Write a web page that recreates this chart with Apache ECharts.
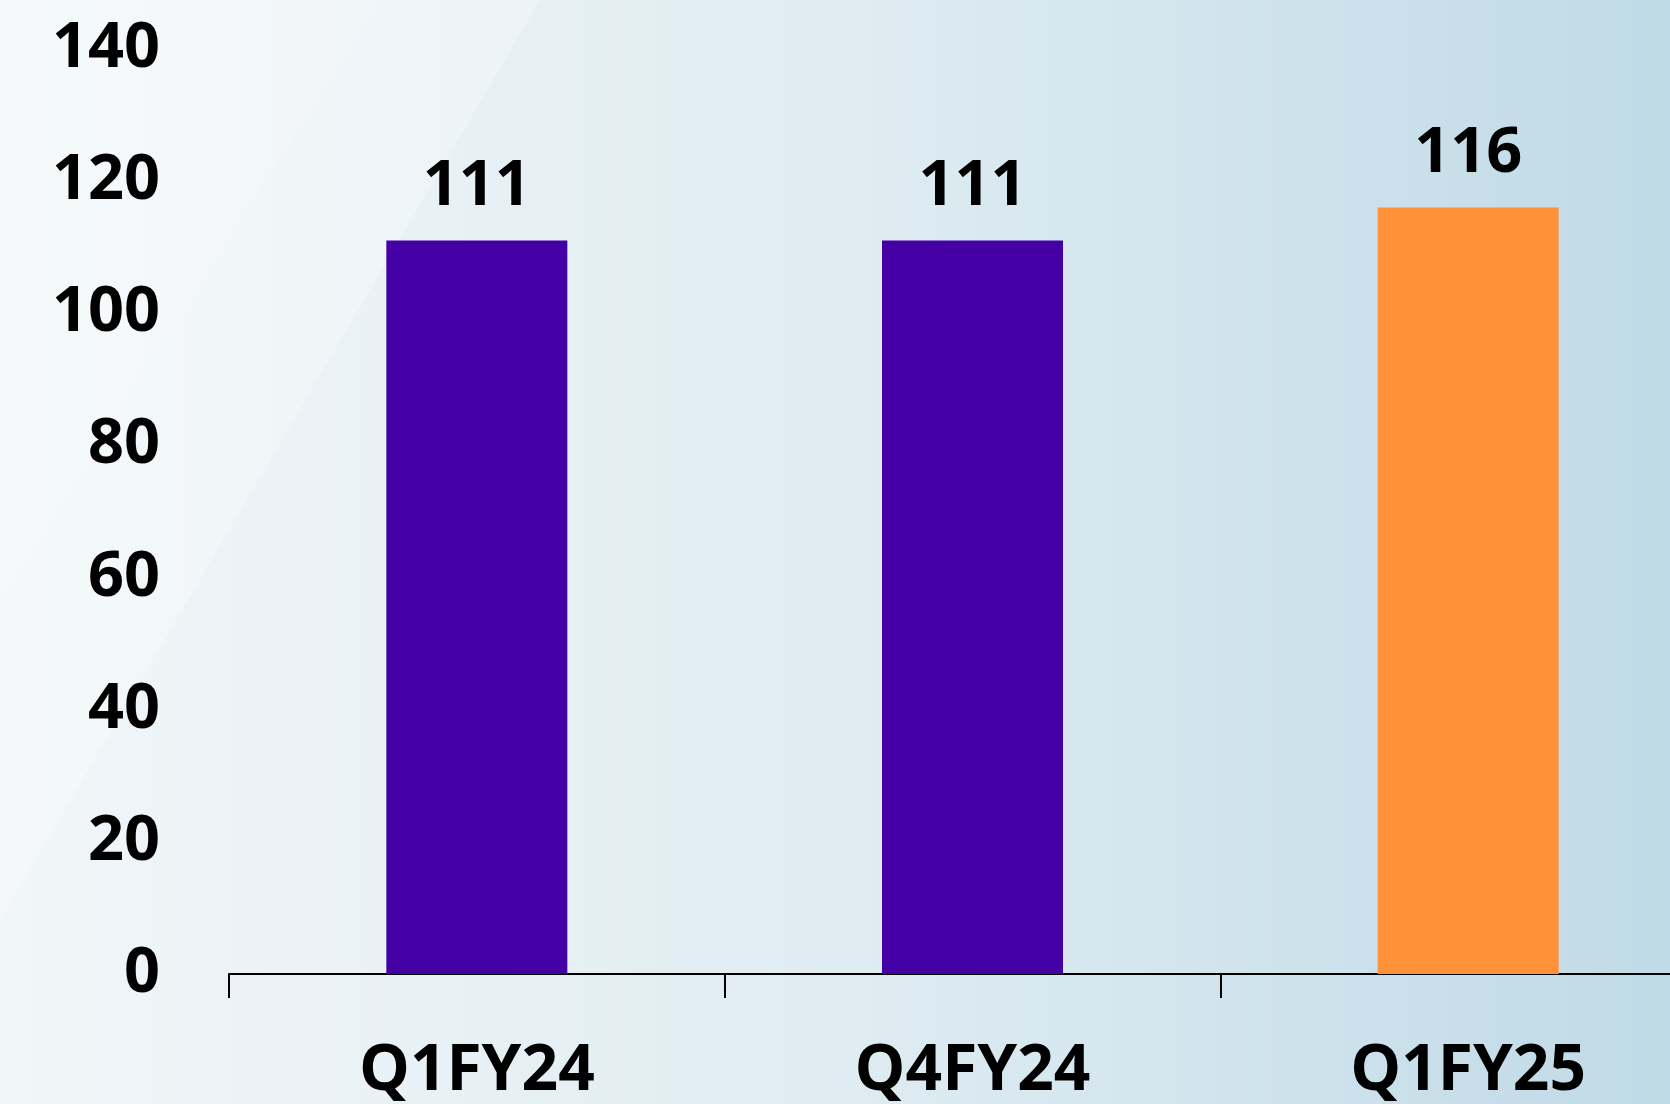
<!DOCTYPE html>
<html>
<head>
<meta charset="utf-8">
<script src="https://cdn.jsdelivr.net/npm/echarts@6/dist/echarts.min.js"></script>
<style>
  html, body { margin: 0; padding: 0; overflow: hidden; }
  /* plot runs past the right edge of the window, like the reference */
  #chart { width: 1716px; height: 1104px; }
</style>
</head>
<body>
<div id="chart"></div>
<script>
var quarters = ['Q1FY24', 'Q4FY24', 'Q1FY25'];
var values = [111, 111, 116];
var barColors = ['#4400a5', '#4400a5', '#ff9238'];
var yTicks = [0, 20, 40, 60, 80, 100, 120, 140];

var chart = echarts.init(document.getElementById('chart'));
var fontFamily = '"Open Sans", Lato, sans-serif';

var option = {
    backgroundColor: {
        type: 'linear', x: 0, y: 0, x2: 1, y2: 0,
        colorStops: [
            { offset: 0, color: '#f1f6f8' },
            { offset: 0.5, color: '#dfecf2' },
            { offset: 1, color: '#bed9e6' }
        ]
    },
    // soft diagonal light bands, only decoration
    graphic: [{
        type: 'polygon',
        silent: true,
        z: -10,
        shape: { points: [[0, 0], [540, 0], [0, 920]] },
        style: { fill: 'rgba(255,255,255,0.28)' }
    }, {
        type: 'polygon',
        silent: true,
        z: -10,
        shape: { points: [[0, 0], [380, 0], [0, 600]] },
        style: { fill: 'rgba(255,255,255,0.15)' }
    }],
    grid: {
        left: 229,
        right: 0,
        top: 49,
        bottom: 124,
        containLabel: false
    },
    xAxis: {
        type: 'category',
        data: quarters,
        axisLine: { show: true, lineStyle: { color: '#000', width: 2 } },
        axisTick: { show: true, length: 24, lineStyle: { color: '#000', width: 2 } },
        axisLabel: {
            margin: 66,
            color: '#000',
            fontFamily: fontFamily,
            fontWeight: 'bold',
            fontSize: 64
        }
    },
    yAxis: {
        type: 'value',
        min: yTicks[0],
        max: yTicks[yTicks.length - 1],
        interval: yTicks[1] - yTicks[0],
        splitLine: { show: false },
        axisLine: { show: false },
        axisTick: { show: false },
        axisLabel: {
            margin: 69,
            color: '#000',
            fontFamily: fontFamily,
            fontWeight: 'bold',
            fontSize: 63
        }
    },
    series: [{
        type: 'bar',
        barWidth: 181,
        data: values.map(function (v, i) {
            return { value: v, itemStyle: { color: barColors[i] } };
        }),
        label: {
            show: true,
            position: 'top',
            distance: 22,
            color: '#000',
            fontFamily: fontFamily,
            fontWeight: 'bold',
            fontSize: 63
        }
    }]
};

chart.setOption(option);
</script>
</body>
</html>
